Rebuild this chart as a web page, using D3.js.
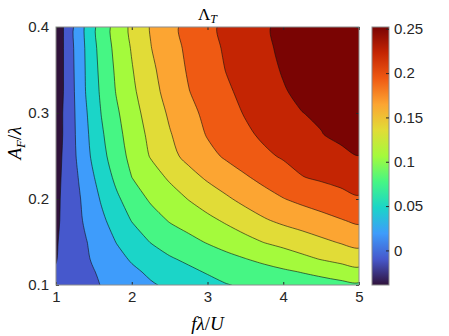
<!DOCTYPE html>
<html>
<head>
<meta charset="utf-8">
<script src="https://cdn.jsdelivr.net/npm/d3@7"></script>
<style>
  body { margin: 0; background: #fff; }
  svg { display: block; }
  .tick text { font-family: "Liberation Sans", Arial, sans-serif; font-size: 15px; fill: #262626; }
</style>
</head>
<body>
<div id="chart"></div>
<script>
// grid of f*lambda/U (columns) and A_F/lambda (rows)
const fLam = [1, 1.1, 1.2, 1.3, 1.4, 1.5, 1.6, 1.8, 2.0, 2.25, 2.5, 2.75, 3.0, 3.25, 3.5, 3.75, 4.0, 4.25, 4.5, 4.75, 5];
const aF = [0.1, 0.115, 0.13, 0.15, 0.175, 0.2, 0.225, 0.25, 0.275, 0.3, 0.325, 0.35, 0.375, 0.4];

// Lambda_T values, one row per aF value (bottom to top)
const lambdaT = [
  [-0.026, -0.022, -0.017, -0.013, -0.008, -0.004, 0.001, 0.009, 0.017, 0.027, 0.035, 0.043, 0.051, 0.059, 0.063, 0.067, 0.070, 0.074, 0.078, 0.082, 0.085],
  [-0.028, -0.022, -0.017, -0.012, -0.006, -0.001, 0.004, 0.014, 0.024, 0.035, 0.044, 0.054, 0.062, 0.068, 0.073, 0.079, 0.085, 0.091, 0.097, 0.104, 0.111],
  [-0.031, -0.024, -0.017, -0.010, -0.003, 0.003, 0.009, 0.021, 0.033, 0.045, 0.057, 0.065, 0.073, 0.081, 0.089, 0.097, 0.105, 0.113, 0.121, 0.128, 0.134],
  [-0.032, -0.025, -0.017, -0.009, -0.001, 0.007, 0.015, 0.031, 0.045, 0.061, 0.072, 0.082, 0.092, 0.102, 0.111, 0.121, 0.128, 0.136, 0.144, 0.152, 0.159],
  [-0.034, -0.026, -0.016, -0.005, 0.005, 0.014, 0.024, 0.043, 0.061, 0.077, 0.092, 0.102, 0.113, 0.124, 0.136, 0.147, 0.156, 0.163, 0.171, 0.178, 0.185],
  [-0.035, -0.026, -0.015, -0.003, 0.009, 0.021, 0.033, 0.055, 0.074, 0.094, 0.107, 0.121, 0.134, 0.146, 0.158, 0.169, 0.179, 0.187, 0.193, 0.200, 0.207],
  [-0.036, -0.027, -0.013, 0.001, 0.015, 0.029, 0.042, 0.067, 0.0898, 0.107, 0.124, 0.140, 0.154, 0.166, 0.177, 0.188, 0.198, 0.209, 0.214, 0.219, 0.224],
  [-0.037, -0.028, -0.011, 0.006, 0.022, 0.037, 0.051, 0.076, 0.098, 0.122, 0.142, 0.158, 0.172, 0.184, 0.195, 0.205, 0.213, 0.220, 0.227, 0.233, 0.2398],
  [-0.038, -0.029, -0.010, 0.008, 0.025, 0.041, 0.056, 0.081, 0.103, 0.127, 0.148, 0.165, 0.182, 0.193, 0.205, 0.215, 0.223, 0.231, 0.239, 0.246, 0.248],
  [-0.038, -0.029, -0.010, 0.010, 0.028, 0.045, 0.061, 0.086, 0.108, 0.133, 0.154, 0.172, 0.187, 0.200, 0.212, 0.221, 0.231, 0.2396, 0.244, 0.246, 0.248],
  [-0.038, -0.0299, -0.009, 0.012, 0.032, 0.049, 0.065, 0.092, 0.114, 0.139, 0.161, 0.179, 0.193, 0.206, 0.217, 0.226, 0.238, 0.246, 0.247, 0.248, 0.249],
  [-0.039, -0.0299, -0.008, 0.013, 0.033, 0.051, 0.068, 0.095, 0.118, 0.144, 0.164, 0.183, 0.197, 0.211, 0.221, 0.232, 0.242, 0.246, 0.248, 0.249, 0.250],
  [-0.039, -0.0299, -0.007, 0.014, 0.034, 0.054, 0.070, 0.099, 0.122, 0.149, 0.168, 0.186, 0.200, 0.214, 0.224, 0.234, 0.246, 0.248, 0.249, 0.250, 0.251],
  [-0.039, -0.0299, -0.007, 0.015, 0.036, 0.056, 0.073, 0.102, 0.126, 0.152, 0.172, 0.189, 0.204, 0.216, 0.226, 0.237, 0.246, 0.249, 0.250, 0.251, 0.252]
];

const levels = [-0.03, 0, 0.03, 0.06, 0.09, 0.12, 0.15, 0.18, 0.21, 0.24];
const xTicks = [1, 2, 3, 4, 5];
const yTicks = [0.1, 0.2, 0.3, 0.4];
const cbTicks = [0, 0.05, 0.1, 0.15, 0.2, 0.25];
const cbRange = [-0.039, 0.252];

// turbo-like colours, one per band (lowest band first)
const bandColors = ["#30123b", "#4658cc", "#3e9cfb", "#1bd5c8", "#46f684", "#a4fa3c",
                    "#e1dc37", "#fca532", "#ef5a13", "#c42503", "#7a0403"];

const svgWidth = 449, svgHeight = 336;
const plot = { left: 56, right: 359, top: 27, bottom: 285 };
const cb = { left: 372, right: 389 };

const svg = d3.select("#chart").append("svg")
    .attr("width", svgWidth)
    .attr("height", svgHeight);

const x = d3.scaleLinear().domain([1, 5]).range([plot.left, plot.right]);
const y = d3.scaleLinear().domain([0.1, 0.4]).range([plot.bottom, plot.top]);

// contour grid coordinates -> data -> pixels (grid is not uniform);
// outer ring edges fall half a cell outside the plot and get clipped
const nx = fLam.length, ny = aF.length;
const gx = d3.scaleLinear().domain(fLam.map((d, i) => i + 0.5)).range(fLam.map(x));
const gy = d3.scaleLinear().domain(aF.map((d, i) => i + 0.5)).range(aF.map(y));

const contours = d3.contours()
    .size([nx, ny])
    .thresholds(levels)(lambdaT.flat());

// smooth each ring a little, like the interpolated lines of contourf
const ringLine = d3.line().curve(d3.curveCatmullRomClosed.alpha(0.5));
const bandPath = mp => mp.coordinates
    .map(poly => poly.map(ring => ringLine(ring.slice(0, -1).map(([a, b]) => [gx(a), gy(b)]))).join(""))
    .join("");

svg.append("clipPath").attr("id", "clip")
  .append("rect")
    .attr("x", plot.left).attr("y", plot.top)
    .attr("width", plot.right - plot.left).attr("height", plot.bottom - plot.top);

const g = svg.append("g").attr("clip-path", "url(#clip)");

g.append("rect")
    .attr("x", plot.left).attr("y", plot.top)
    .attr("width", plot.right - plot.left).attr("height", plot.bottom - plot.top)
    .attr("fill", bandColors[0]);

g.selectAll("path.band")
  .data(contours)
  .join("path")
    .attr("class", "band")
    .attr("d", bandPath)
    .attr("fill-rule", "evenodd")
    .attr("fill", (d, i) => bandColors[i + 1])
    .attr("stroke", "#111")
    .attr("stroke-width", 0.6)
    .attr("stroke-linejoin", "round");

// axes, MATLAB style: ticks pointing in, box on
const axisColor = "#8c8c8c";
svg.append("g")
    .attr("transform", `translate(0,${plot.bottom})`)
    .call(d3.axisBottom(x).tickValues(xTicks).tickFormat(d3.format("d")).tickSize(-3).tickPadding(6))
    .call(a => a.select(".domain").remove())
    .call(a => a.selectAll("line").attr("stroke", "#262626"));
svg.append("g")
    .attr("transform", `translate(0,${plot.top})`)
    .call(d3.axisTop(x).tickValues(xTicks).tickFormat("").tickSize(-3))
    .call(a => a.select(".domain").remove())
    .call(a => a.selectAll("line").attr("stroke", "#262626"));
svg.append("g")
    .attr("transform", `translate(${plot.left},0)`)
    .call(d3.axisLeft(y).tickValues(yTicks).tickFormat(d3.format(".1f")).tickSize(-3).tickPadding(7))
    .call(a => a.select(".domain").remove())
    .call(a => a.selectAll("line").attr("stroke", "#262626"));
svg.append("g")
    .attr("transform", `translate(${plot.right},0)`)
    .call(d3.axisRight(y).tickValues(yTicks).tickFormat("").tickSize(-3))
    .call(a => a.select(".domain").remove())
    .call(a => a.selectAll("line").attr("stroke", "#262626"));

svg.append("rect")
    .attr("x", plot.left).attr("y", plot.top)
    .attr("width", plot.right - plot.left).attr("height", plot.bottom - plot.top)
    .attr("fill", "none")
    .attr("stroke", axisColor)
    .attr("stroke-width", 1);

// colorbar
const cbScale = d3.scaleLinear().domain(cbRange).range([plot.bottom, plot.top]);
const grad = svg.append("defs").append("linearGradient")
    .attr("id", "turbo")
    .attr("x1", 0).attr("y1", 1).attr("x2", 0).attr("y2", 0);
grad.selectAll("stop")
  .data(bandColors)
  .join("stop")
    .attr("offset", (d, i) => i / (bandColors.length - 1))
    .attr("stop-color", d => d);

svg.append("rect")
    .attr("x", cb.left).attr("y", plot.top)
    .attr("width", cb.right - cb.left).attr("height", plot.bottom - plot.top)
    .attr("fill", "url(#turbo)")
    .attr("stroke", axisColor)
    .attr("stroke-width", 1);

svg.append("g")
    .attr("transform", `translate(${cb.right},0)`)
    .call(d3.axisRight(cbScale).tickValues(cbTicks).tickFormat(d => d3.format("")(d)).tickSize(-3).tickPadding(5))
    .call(a => a.select(".domain").remove())
    .call(a => a.selectAll("line").attr("stroke", "#262626"));

// labels (LaTeX look)
const serif = "'Liberation Serif', 'DejaVu Serif', serif";

const title = svg.append("text")
    .attr("x", x(3)).attr("y", 20)
    .attr("text-anchor", "middle")
    .attr("font-family", serif).attr("font-size", 17).attr("fill", "#000");
title.append("tspan").text("Λ");
title.append("tspan").attr("font-style", "italic").attr("font-size", 12).attr("dy", 3).text("T");

const xl = svg.append("text")
    .attr("x", x(3)).attr("y", 330)
    .attr("text-anchor", "middle")
    .attr("font-family", serif).attr("font-size", 19).attr("fill", "#000");
xl.append("tspan").attr("font-style", "italic").text("fλ");
xl.append("tspan").text("/");
xl.append("tspan").attr("font-style", "italic").text("U");

const yl = svg.append("text")
    .attr("transform", `translate(21,143) rotate(-90)`)
    .attr("text-anchor", "middle")
    .attr("font-family", serif).attr("font-size", 19).attr("fill", "#000");
yl.append("tspan").attr("font-style", "italic").text("A");
yl.append("tspan").attr("font-style", "italic").attr("font-size", 13).attr("dy", 4).text("F");
yl.append("tspan").attr("dy", -4).text("/");
yl.append("tspan").attr("font-style", "italic").text("λ");
</script>
</body>
</html>
